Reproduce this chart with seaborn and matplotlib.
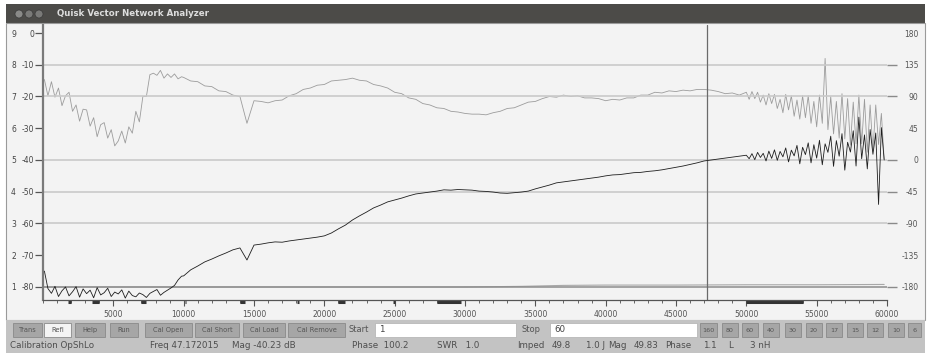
import matplotlib
matplotlib.use("Agg")
import matplotlib.pyplot as plt
from matplotlib.patches import Rectangle, Ellipse
import numpy as np
import pandas as pd
import seaborn as sns

# sweep grid (kHz): dense at the noisy ends, coarser in the middle
freq = np.concatenate([np.arange(100, 10000, 250),
                       np.arange(10000, 50000, 500),
                       np.arange(50000, 60000, 200)])

# reflection magnitude, dB (black trace)
mag_db = [
    -75.0, -80.5, -82.0, -79.8, -83.0, -81.2, -80.0, -82.8, -81.5, -79.9,
    -83.2, -80.6, -82.1, -81.0, -83.4, -80.2, -82.5, -81.8, -80.4, -83.0,
    -81.6, -82.2, -80.9, -83.5, -81.3, -82.7, -83.1, -81.9, -82.4, -83.3,
    -82.0, -81.4, -80.8, -82.6, -81.7, -81.0, -80.3, -79.5, -77.8, -76.6,
    -76.5, -74.6, -73.4, -72.1, -71.2, -70.2, -69.3, -68.3, -67.7, -71.5,
    -66.8, -66.5, -66.1, -65.8, -65.9, -65.5, -65.2, -64.9, -64.6, -64.3,
    -63.9, -63.0, -61.7, -60.5, -58.9, -57.6, -56.4, -55.1, -54.2, -53.2,
    -52.6, -52.0, -51.3, -50.7, -50.4, -50.1, -49.8, -49.4, -49.5, -49.3,
    -49.4, -49.5, -49.8, -49.9, -50.1, -50.4, -50.5, -50.3, -50.1, -49.8,
    -49.1, -48.5, -47.9, -47.2, -46.9, -46.6, -46.3, -46.0, -45.7, -45.4,
    -45.0, -44.7, -44.6, -44.3, -44.0, -43.9, -43.6, -43.4, -43.1, -42.7,
    -42.3, -41.9, -41.4, -40.9, -40.3, -40.0, -39.7, -39.4, -39.1, -38.8,
    -38.5, -39.6, -38.0, -39.9, -37.6, -39.2, -37.9, -40.3, -37.2, -39.5,
    -36.8, -40.1, -37.3, -39.0, -36.2, -40.6, -36.9, -38.7, -35.4, -41.2,
    -36.0, -38.3, -34.6, -40.9, -35.2, -39.4, -33.8, -41.5, -34.9, -37.6,
    -32.5, -42.0, -33.9, -38.8, -31.7, -43.2, -34.4, -37.5, -30.8, -41.9,
    -26.5, -39.6, -32.1, -42.8, -30.4, -38.2, -31.5, -54.0, -29.8, -40.0,
]

# reflection phase, degrees (grey trace)
phase_deg = [
    114, 91, 111, 89, 102, 77, 91, 96, 69, 78,
    55, 72, 71, 48, 60, 33, 50, 53, 31, 43,
    20, 27, 41, 24, 47, 38, 69, 54, 90, 90,
    121, 123, 120, 127, 116, 122, 117, 122, 115, 118,
    117, 112, 111, 105, 104, 98, 97, 92, 90, 52,
    84, 83, 81, 84, 85, 91, 94, 100, 102, 106,
    107, 112, 113, 114, 116, 113, 112, 107, 105, 102,
    96, 94, 88, 86, 80, 78, 74, 73, 69, 68,
    66, 65, 65, 64, 67, 69, 73, 74, 78, 82,
    83, 87, 90, 89, 92, 90, 91, 88, 88, 87,
    84, 86, 85, 88, 88, 92, 92, 96, 95, 98,
    97, 99, 98, 100, 100, 99, 97, 94, 95, 92,
    96, 86, 97, 87, 96, 82, 92, 78, 94, 80,
    93, 73, 86, 67, 93, 71, 91, 62, 85, 58,
    91, 60, 91, 52, 83, 47, 92, 52, 144, 43,
    90, 37, 83, 31, 94, 30, 87, 21, 82, 23,
    92, 23, 86, 11, 78, 13, 78, 22, 66, 0,
]

# SWR trace (faint, along the bottom)
swr_freq = [100, 20000, 30000, 34000, 37000, 40000, 45000, 50000, 55000, 59800]
swr_val = [1.0, 1.0, 1.0, 1.02, 1.05, 1.06, 1.06, 1.07, 1.07, 1.08]

# amateur bands marked on the frequency ruler (kHz)
band_lo = [1800, 3500, 7000, 10100, 14000, 18068, 21000, 24890, 28000, 50000]
band_hi = [2000, 4000, 7300, 10150, 14350, 18168, 21450, 24990, 29700, 54000]

cursor_freq = 47172

db_ticks = [0, -10, -20, -30, -40, -50, -60, -70, -80]
swr_ticks = [9, 8, 7, 6, 5, 4, 3, 2, 1]
phase_ticks = [180, 135, 90, 45, 0, -45, -90, -135, -180]
grid_db = [-10, -20, -40, -50, -60]

left_buttons = ["Trans", "Refl", "Help", "Run", "Cal Open", "Cal Short",
                "Cal Load", "Cal Remove"]
left_btn_x = [(13, 42), (44, 71), (75, 105), (110, 138), (145, 192),
              (195, 239), (243, 285), (288, 345)]
band_buttons = ["160", "80", "60", "40", "30", "20", "17", "15", "12", "10", "6"]
band_btn_x = [(700, 717), (722, 738), (742, 758), (763, 779), (785, 801),
              (806, 822), (826, 842), (847, 863), (867, 883), (888, 904),
              (908, 921)]
status = [("Calibration OpShLo", 10), ("Freq 47.172015", 150), ("Mag -40.23 dB", 232),
          ("Phase  100.2", 352), ("SWR   1.0", 437), ("Imped", 517), ("49.8", 552),
          ("1.0 J", 586), ("Mag", 608), ("49.83", 634), ("Phase", 665), ("1.1", 703),
          ("L", 728), ("3 nH", 750)]

W, H = 930, 353

sns.set_theme(style="white")
plt.rcParams["font.family"] = ["DejaVu Sans"]

fig = plt.figure(figsize=(W / 100, H / 100), dpi=100)
fig.patch.set_facecolor("white")


def rect(x0, y0, x1, y1, **kw):
    fig.add_artist(Rectangle((x0 / W, 1 - y1 / H), (x1 - x0) / W, (y1 - y0) / H,
                             transform=fig.transFigure, **kw))


def ftext(x, y, s, **kw):
    kw.setdefault("va", "center")
    fig.text(x / W, 1 - y / H, s, **kw)


# window chrome
rect(6, 4, 925, 23, facecolor="#4c4b48", edgecolor="none", zorder=0)
rect(6, 23, 925, 320, facecolor="#f3f3f3", edgecolor="#9a9a9a", lw=0.8, zorder=0)
rect(6, 320, 925, 353, facecolor="#c3c3c3", edgecolor="none", zorder=0)
for cx, c in zip([19, 29, 39], ["#8a8a88", "#7a7a78", "#7a7a78"]):
    fig.add_artist(Ellipse((cx / W, 1 - 14 / H), 8 / W, 8 / H,
                           transform=fig.transFigure, facecolor=c, edgecolor="#3a3a3a", lw=0.5))
ftext(57, 14, "Quisk Vector Network Analyzer", color="#dddddd", fontsize=6.2,
      fontweight="bold")

# main plot (dB on the left)
ax = fig.add_axes([43 / W, (H - 300) / H, 844 / W, 275 / H])
ax.set_xlim(0, 60000)
ax.set_ylim(-84.1, 2.52)
ax.patch.set_visible(False)

for g in grid_db:
    ax.axhline(g, color="#cacaca", lw=1.2, zorder=0)
ax.axhline(-80, color="#8c8c8c", lw=1.1, zorder=0)
ax.axvline(cursor_freq, color="#6a6a6a", lw=0.9)

df = pd.DataFrame({"freq": freq, "mag": mag_db, "phase": phase_deg})
sns.lineplot(data=df, x="freq", y="mag", ax=ax, color="#1e1e1e", lw=0.6,
             estimator=None, sort=False, zorder=5)
ax.set_xlabel("")
ax.set_ylabel("")

for s in ["top", "right"]:
    ax.spines[s].set_visible(False)
ax.spines["left"].set_color("#7a7a7a")
ax.spines["left"].set_linewidth(1.6)
ax.spines["bottom"].set_color("#555555")
ax.spines["bottom"].set_linewidth(0.9)

ax.set_yticks(db_ticks)
ax.set_yticklabels([str(v) for v in db_ticks])
ax.tick_params(axis="y", left=True, length=5.8, width=0.9, color="#555555",
               pad=0.5, labelsize=5.5, labelcolor="#444444")
for i, v in enumerate(db_ticks):
    if v in (0, -30, -70):
        ax.yaxis.get_major_ticks()[i].tick1line.set_visible(False)

ax.set_xticks(np.arange(5000, 60001, 5000))
ax.set_xticklabels([str(v) for v in range(5000, 60001, 5000)])
ax.set_xticks(np.arange(0, 60001, 1000), minor=True)
ax.tick_params(axis="x", which="major", bottom=True, direction="out", length=4.5,
               width=0.8, color="#555555", pad=2.5, labelsize=5.5, labelcolor="#555555")
ax.tick_params(axis="x", which="minor", bottom=True, direction="out", length=2.5,
               width=0.7, color="#666666")
xt = ax.get_xaxis_transform()
for a, b in zip(band_lo, band_hi):
    ax.plot([a, b], [-0.008, -0.008], transform=xt, color="#333333", lw=2.2,
            solid_capstyle="butt", clip_on=False)

# phase scale on the right
ax_ph = ax.twinx()
ax_ph.set_ylim((-84.1 + 40) * 4.5, (2.52 + 40) * 4.5)
sns.lineplot(data=df, x="freq", y="phase", ax=ax_ph, color="#9c9c9c", lw=0.6,
             estimator=None, sort=False)
ax_ph.set_ylabel("")
ax_ph.set_yticks(phase_ticks)
ax_ph.set_yticklabels([str(v) for v in phase_ticks])
ax_ph.tick_params(axis="y", right=True, length=7.2, width=1.0, color="#8a8a8a",
                  pad=15.5, labelsize=5.5, labelcolor="#555555")
for lbl in ax_ph.get_yticklabels():
    lbl.set_horizontalalignment("right")
for i, v in enumerate(phase_ticks):
    if v in (180, 45, -135):
        ax_ph.yaxis.get_major_ticks()[i].tick2line.set_visible(False)
for s in ax_ph.spines.values():
    s.set_visible(False)

# SWR scale, labels on the far left
ax_swr = ax.twinx()
ax_swr.set_ylim(9 - 8.41, 9.252)
sns.lineplot(x=swr_freq, y=swr_val, ax=ax_swr, color="#a8a8a8", lw=0.8)
ax_swr.yaxis.tick_left()
ax_swr.set_yticks(swr_ticks)
ax_swr.set_yticklabels([str(v) for v in swr_ticks])
ax_swr.tick_params(axis="y", left=True, right=False, length=0, pad=19.5,
                   labelsize=5.5, labelcolor="#444444")
for s in ax_swr.spines.values():
    s.set_visible(False)

ax.set_zorder(3)
ax_ph.set_zorder(2)
ax_swr.set_zorder(1)

# button row
for name, (x0, x1) in zip(left_buttons, left_btn_x):
    fc = "#f4f4f4" if name == "Refl" else "#a6a6a6"
    rect(x0, 323, x1, 337, facecolor=fc, edgecolor="#8a8a8a", lw=0.6)
    ftext((x0 + x1) / 2, 330, name, ha="center", fontsize=4.8, color="#555555")
ftext(348, 330, "Start", fontsize=6, color="#555555")
rect(375, 323, 516, 337, facecolor="white", edgecolor="#b0b0b0", lw=0.5)
ftext(379, 330, "1", fontsize=6.3, color="#444444")
ftext(522, 330, "Stop", fontsize=6, color="#555555")
rect(550, 323, 697, 337, facecolor="white", edgecolor="#b0b0b0", lw=0.5)
ftext(554, 330, "60", fontsize=6.3, color="#444444")
for name, (x0, x1) in zip(band_buttons, band_btn_x):
    rect(x0, 323, x1, 337, facecolor="#a6a6a6", edgecolor="#8a8a8a", lw=0.6)
    ftext((x0 + x1) / 2, 330, name, ha="center", fontsize=4.6, color="#555555")

# status line
for s, x in status:
    ftext(x, 346, s, fontsize=6.3, color="#4e4e4e")

fig.savefig("out.png", dpi=100)
